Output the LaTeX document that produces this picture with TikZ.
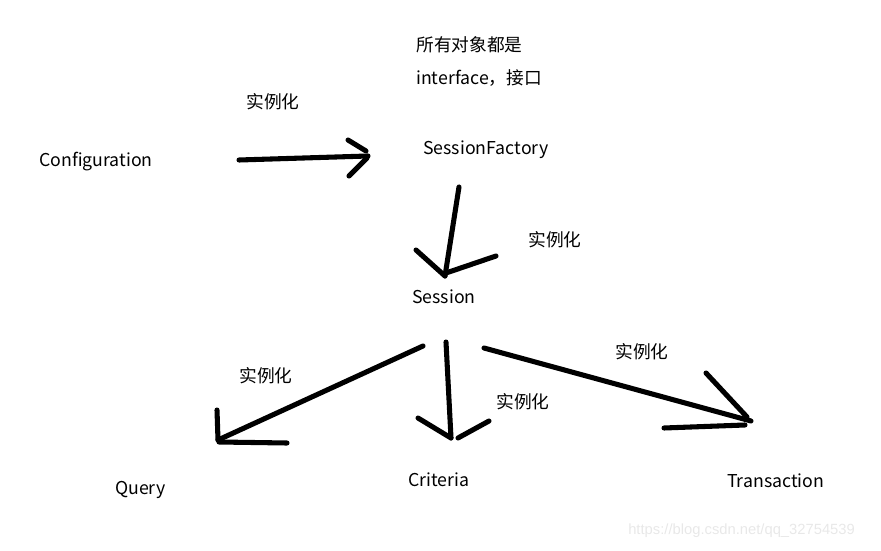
\documentclass[tikz,border=0pt]{standalone}
\usepackage{fontspec}
\setmainfont{Noto Sans CJK SC}
\newfontfamily\markfont{Liberation Sans}
\usepackage{xcolor}
\usetikzlibrary{positioning}
\definecolor{inkgray}{RGB}{232, 232, 232}

\begin{document}
\begin{tikzpicture}[
        x=0.025cm, y=-0.025cm,
        label/.style={inner sep=0pt, font=\fontsize{12.6}{14}\selectfont, anchor=west},
        pen/.style={line width=3.6pt, line cap=round, line join=round, black}
    ]
        \useasboundingbox (0,0) rectangle (881,551);

        % Nodes
        \node (config) [label] at (39,162) {Configuration};
        \node (factory) [label] at (423,150) {SessionFactory};
        \node (session) [label] at (412,297) {Session};
        \node (query) [label] at (115,490) {Query};
        \node (criteria) [label] at (408,480) {Criteria};
        \node (transaction) [label] at (727,481) {Transaction};

        % Note
        \node (note1) [label] at (416,45) {所有对象都是};
        \node (note2) [label, below=0.4cm of note1.south west, anchor=north west] {interface，接口};

        % Arrow ends
        \coordinate (c1a) at (239,160);  \coordinate (c1b) at (368,156);
        \coordinate (c2a) at (459,187);  \coordinate (c2b) at (445,276);
        \coordinate (c3a) at (423,346);  \coordinate (c3b) at (218,440);
        \coordinate (c4a) at (446,342);  \coordinate (c4b) at (451,438);
        \coordinate (c5a) at (484,348);  \coordinate (c5b) at (751,421);

        % Arrows (hand drawn heads)
        \draw [pen] (c1a) -- (c1b);
        \draw [pen] (348,140) -- (366,151);
        \draw [pen] (349,176) -- (367,158);

        \draw [pen] (c2a) -- (c2b);
        \draw [pen] (416,250) -- (c2b);
        \draw [pen] (496,256) -- (446,273);

        \draw [pen] (c3a) -- (c3b);
        \draw [pen] (217,410) -- (c3b);
        \draw [pen] (219,442) -- (287,443);

        \draw [pen] (c4a) -- (c4b);
        \draw [pen] (418,418) -- (c4b);
        \draw [pen] (489,421) -- (458,438);

        \draw [pen] (c5a) -- (c5b);
        \draw [pen] (706,373) -- (747,417);
        \draw [pen] (664,428) -- (745,425);

        % Labels
        \node (lab1) [label] at (246,102) {实例化};
        \node (lab2) [label] at (528,240) {实例化};
        \node (lab3) [label] at (239,376) {实例化};
        \node (lab4) [label] at (496,402) {实例化};
        \node (lab5) [label] at (615,352) {实例化};

        % Watermark
        \node (mark) [label, font=\markfont\fontsize{10.5}{12}\selectfont, text=inkgray] at (628,531) {https://blog.csdn.net/qq\_32754539};

    \end{tikzpicture}
\end{document}
